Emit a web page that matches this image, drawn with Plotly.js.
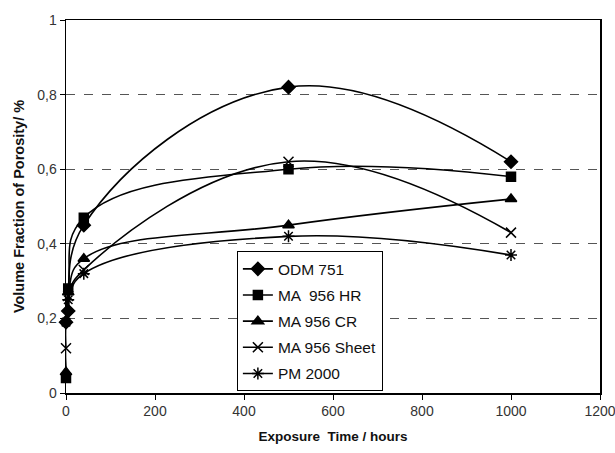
<!DOCTYPE html>
<html>
<head>
<meta charset="utf-8">
<script src="https://cdn.plot.ly/plotly-3.0.1.min.js"></script>
<style>html,body{margin:0;padding:0;background:#fff;}#chart{width:615px;height:453px;}</style>
</head>
<body>
<div id="chart"></div>
<script>
// Exposure times (hours)
const timeODM   = [0, 5, 40, 500, 1000];
const timeHR    = [0, 5, 40, 500, 1000];
const timeCR    = [0, 5, 40, 500, 1000];
const timeSheet = [0, 5, 40, 500, 1000];
const timePM    = [0, 5, 40, 500, 1000];

// Volume fraction of porosity (%)
const odm751   = [0.19, 0.22, 0.45, 0.82, 0.62];
const ma956HR  = [0.04, 0.28, 0.47, 0.60, 0.58];
const ma956CR  = [0.056, 0.27, 0.36, 0.45, 0.52];
const ma956Sht = [0.12, 0.26, 0.33, 0.62, 0.43];
const pm2000   = [0.19, 0.25, 0.32, 0.42, 0.37];

const seriesNames = ["ODM 751", "MA  956 HR", "MA 956 CR", "MA 956 Sheet", "PM 2000"];

function tr(x, y, name, symbol, size, grp) {
  return {
    x: x, y: y, name: name, type: 'scatter', mode: 'lines+markers',
    legendgroup: grp,
    line: {color: '#000', width: 1.6, shape: 'spline', smoothing: 1.2},
    marker: {symbol: symbol, size: size, color: '#000', line: {color: '#000', width: 1.5}},
    cliponaxis: false
  };
}

const data = [
  tr(timeODM, odm751, seriesNames[0], 'diamond', 10, 'a'),
  tr(timeHR, ma956HR, seriesNames[1], 'square', 9, 'b'),
  tr(timeCR, ma956CR, seriesNames[2], 'triangle-up', 10, 'c'),
  tr(timeSheet, ma956Sht, seriesNames[3], 'x-thin-open', 10, 'd'),
  tr(timePM, pm2000, seriesNames[4], 'asterisk-open', 10, 'e')
];

const layout = {
  width: 615, height: 453,
  margin: {l: 66, r: 15, t: 20, b: 60},
  paper_bgcolor: '#fff', plot_bgcolor: '#fff',
  separators: ', ',
  font: {family: 'Liberation Sans, Arial, sans-serif', color: '#222'},
  showlegend: true,
  legend: {
    x: 0.32, y: 0.38, xanchor: 'left', yanchor: 'top',
    bgcolor: '#fff', bordercolor: '#000', borderwidth: 1,
    font: {size: 15.5, color: '#111'},
    traceorder: 'grouped', tracegroupgap: 3
  },
  xaxis: {
    range: [0, 1200], dtick: 200, tick0: 0,
    showgrid: false, zeroline: false,
    showline: true, linecolor: '#000', linewidth: 1.5, mirror: true,
    ticks: 'outside', ticklen: 5, tickcolor: '#000', tickwidth: 1,
    ticklabeloverflow: 'allow',
    tickfont: {size: 14, color: '#333'},
    title: {text: '<b>Exposure  Time / hours</b>', font: {size: 13.5, color: '#111'}, standoff: 13}
  },
  yaxis: {
    range: [0, 1], dtick: 0.2, tick0: 0,
    showgrid: true, gridcolor: '#555', griddash: 'dash', gridwidth: 1,
    zeroline: false,
    showline: true, linecolor: '#000', linewidth: 1.5, mirror: true,
    ticks: 'outside', ticklen: 5, tickcolor: '#000', tickwidth: 1,
    tickfont: {size: 14, color: '#333'},
    title: {text: '<b>Volume Fraction of Porosity/ %</b>', font: {size: 14.5, color: '#111'}, standoff: 9}
  }
};

Plotly.newPlot('chart', data, layout, {staticPlot: true});
</script>
</body>
</html>
